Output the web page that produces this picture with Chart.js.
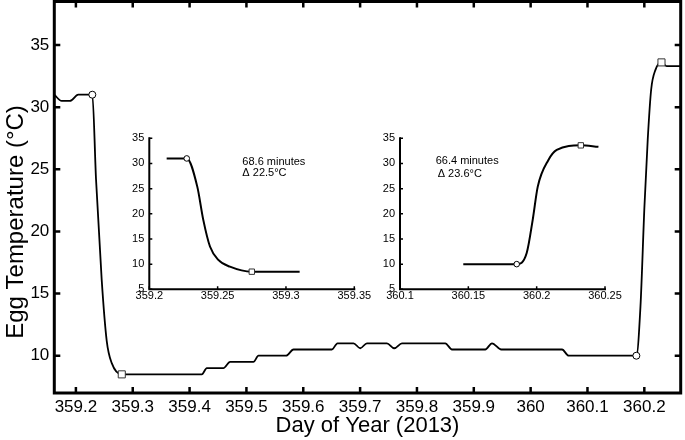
<!DOCTYPE html>
<html>
<head>
<meta charset="utf-8">
<script src="https://cdn.jsdelivr.net/npm/chart.js@4.4.1/dist/chart.umd.min.js"></script>
<style>
    body {margin: 0; background: #fff;}
    #wrap {position: relative; width: 685px; height: 440px;}
    #wrap canvas {position: absolute;}
</style>
</head>
<body>
<div id="wrap">
    <canvas id="main" width="685" height="440" style="left:0;top:0"></canvas>
    <canvas id="inset-drop" width="280" height="185" style="left:95px;top:125px"></canvas>
    <canvas id="inset-rise" width="280" height="185" style="left:350px;top:125px"></canvas>
</div>
<script>
// main record (day of year vs egg temperature)
const dayOfYear = [
    359.162, 359.175, 359.1896, 359.2042, 359.2289,
    359.2354, 359.2454, 359.2542, 359.2631, 359.2807,
    359.4215, 359.4303, 359.4595, 359.4713, 359.5123, 359.5212, 359.5699, 359.5828,
    359.6504, 359.6602, 359.6884, 359.7002, 359.712, 359.7472, 359.7601, 359.7736,
    359.8498, 359.8616, 359.9202, 359.932, 359.9484, 360.0553, 360.0669, 360.186,
    360.1932, 360.2002, 360.206, 360.212, 360.2196, 360.2302, 360.2394, 360.264,
];
const eggTemp = [
    31, 30.5, 30.5, 31, 31,
    24.2, 16.1, 11.2, 9.4, 8.5,
    8.5, 9, 9, 9.5, 9.5, 10, 10, 10.5,
    10.5, 11, 11, 10.6, 11, 11, 10.6, 11,
    11, 10.5, 10.5, 11, 10.5, 10.5, 10, 10,
    13.95, 22.0, 27.4, 31.4, 33.0, 33.6, 33.3, 33.3,
];
// start (circle) and end (square) of each transition
const circleDay = [359.2289, 360.186];
const circleTemp = [31, 10];
const squareDay = [359.2807, 360.2302];
const squareTemp = [8.5, 33.6];

// inset: cooling
const dropDay = [359.2127, 359.2274, 359.2351, 359.2395, 359.2444, 359.2505, 359.259, 359.275, 359.31];
const dropTemp = [31, 31, 25.4, 18.8, 13.5, 10.85, 9.5, 8.5, 8.5];
const dropMarkDay = [359.2274, 359.275];
const dropMarkTemp = [31, 8.5];
// inset: warming
const riseDay = [360.1463, 360.1854, 360.1927, 360.1971, 360.2008, 360.2086, 360.2147, 360.2323, 360.2452];
const riseTemp = [10, 10, 12.2, 18.8, 25.4, 30.7, 32.7, 33.6, 33.3];
const riseMarkDay = [360.1854, 360.2323];
const riseMarkTemp = [10, 33.6];

// tick labels
const mainDayTicks = [359.2, 359.3, 359.4, 359.5, 359.6, 359.7, 359.8, 359.9, 360, 360.1, 360.2];
const mainTempTicks = [10, 15, 20, 25, 30, 35];
const insetTempTicks = [5, 10, 15, 20, 25, 30, 35];
const dropDayTicks = [359.2, 359.25, 359.3, 359.35];
const riseDayTicks = [360.1, 360.15, 360.2, 360.25];

// annotations: [day, temp, text]
const dropNotes = [[359.2681, 30.35, "68.6 minutes"], [359.2681, 28.05, "\u0394 22.5\u00B0C"]];
const riseNotes = [[360.1261, 30.5, "66.4 minutes"], [360.1276, 27.85, "\u0394 23.6\u00B0C"]];

const FONT = "'Liberation Sans', Arial, Helvetica, sans-serif";
const toXY = (xs, ys) => xs.map((x, i) => ({x: x, y: ys[i]}));
const fmt = (v) => String(parseFloat(Number(v).toFixed(3)));
const noPad = (s) => {
    s.paddingTop = 0;
    s.paddingBottom = 0;
    s.paddingLeft = 0;
    s.paddingRight = 0;
};

// frame + inward ticks drawn from the chart's own scales
const axesPlugin = {
    id: "axesPlugin",
    afterDraw(chart, args, opts) {
        const {ctx, chartArea: a} = chart;
        const x = chart.scales.x;
        const y = chart.scales.y;
        ctx.save();
        ctx.strokeStyle = "#000";
        ctx.lineWidth = opts.tickWidth;
        ctx.beginPath();
        x.ticks.forEach((t) => {
            const px = x.getPixelForValue(t.value);
            ctx.moveTo(px, a.bottom);
            ctx.lineTo(px, a.bottom - opts.tickLen);
            if (opts.box) {
                ctx.moveTo(px, a.top);
                ctx.lineTo(px, a.top + opts.tickLen);
            }
        });
        y.ticks.forEach((t) => {
            const py = y.getPixelForValue(t.value);
            ctx.moveTo(a.left, py);
            ctx.lineTo(a.left + opts.tickLen, py);
            if (opts.box) {
                ctx.moveTo(a.right, py);
                ctx.lineTo(a.right - opts.tickLen, py);
            }
        });
        ctx.stroke();
        ctx.lineWidth = opts.lineWidth;
        ctx.lineCap = "square";
        if (opts.box) {
            ctx.strokeRect(a.left, a.top, a.right - a.left, a.bottom - a.top);
        } else {
            ctx.beginPath();
            ctx.moveTo(a.left, a.top);
            ctx.lineTo(a.left, a.bottom);
            ctx.lineTo(a.right, a.bottom);
            ctx.stroke();
        }
        ctx.fillStyle = "#000";
        // y axis title, sits a bit below the middle of the axis
        if (opts.yTitle) {
            ctx.save();
            ctx.font = opts.yTitle.size + "px " + FONT;
            ctx.textAlign = "center";
            ctx.textBaseline = "middle";
            ctx.translate(opts.yTitle.x, opts.yTitle.y);
            ctx.rotate(-Math.PI / 2);
            ctx.fillText(opts.yTitle.text, 0, 0);
            ctx.restore();
        }
        // text notes placed in data coordinates
        (opts.notes || []).forEach(([d, t, text]) => {
            ctx.font = "11px " + FONT;
            ctx.textAlign = "left";
            ctx.textBaseline = "middle";
            ctx.fillText(text, x.getPixelForValue(d), y.getPixelForValue(t));
        });
        ctx.restore();
    },
};

function markerSets(cx, cy, sx, sy, rc, rs) {
    return [
        {
            data: toXY(cx, cy), showLine: false, order: 0,
            pointStyle: "circle", pointRadius: rc, pointBackgroundColor: "#fff",
            pointBorderColor: "#000", pointBorderWidth: 1,
        },
        {
            data: toXY(sx, sy), showLine: false, order: 0,
            pointStyle: "rect", pointRadius: rs, pointBackgroundColor: "#fff",
            pointBorderColor: "#333", pointBorderWidth: 1,
        },
    ];
}

new Chart(document.getElementById("main"), {
    type: "line",
    data: {
        datasets: [
            {
                data: toXY(dayOfYear, eggTemp), order: 1,
                borderColor: "#000", borderWidth: 1.8, pointRadius: 0,
                cubicInterpolationMode: "monotone", fill: false,
            },
            ...markerSets(circleDay, circleTemp, squareDay, squareTemp, 3.5, 5),
        ],
    },
    options: {
        responsive: false,
        animation: false,
        layout: {autoPadding: false, padding: {top: 1.5, right: 4.3, left: 0, bottom: 0}},
        plugins: {
            legend: {display: false},
            tooltip: {enabled: false},
            axesPlugin: {
                box: true, lineWidth: 3, tickWidth: 2.5, tickLen: 6,
                yTitle: {text: "Egg Temperature (\u00B0C)", size: 24, x: 16, y: 222},
            },
        },
        scales: {
            x: {
                type: "linear",
                min: 359.162,
                max: 360.264,
                afterBuildTicks: (s) => { s.ticks = mainDayTicks.map((v) => ({value: v})); },
                afterFit: (s) => { s.height = 47; noPad(s); },
                grid: {display: false, drawTicks: false},
                border: {display: false},
                ticks: {
                    color: "#000", font: {family: FONT, size: 17}, padding: 4,
                    maxRotation: 0, autoSkip: false, callback: (v) => fmt(v),
                },
                title: {
                    display: true, text: "Day of Year (2013)", color: "#000",
                    font: {family: FONT, size: 22}, padding: {top: 0, bottom: 1},
                },
            },
            y: {
                type: "linear",
                min: 7,
                max: 38.5,
                afterBuildTicks: (s) => { s.ticks = mainTempTicks.map((v) => ({value: v})); },
                afterFit: (s) => { s.width = 54.3; noPad(s); },
                grid: {display: false, drawTicks: false},
                border: {display: false},
                ticks: {color: "#000", font: {family: FONT, size: 17}, padding: 5, callback: (v) => fmt(v)},
            },
        },
    },
    plugins: [axesPlugin],
});

function insetChart(id, line, marks, xMin, xMax, xTicks, notes, pad) {
    return new Chart(document.getElementById(id), {
        type: "line",
        data: {
            datasets: [
                {
                    data: line, order: 1, borderColor: "#000", borderWidth: 2,
                    pointRadius: 0, cubicInterpolationMode: "monotone", fill: false,
                },
                ...marks,
            ],
        },
        options: {
            responsive: false,
            animation: false,
            layout: {autoPadding: false, padding: pad},
            plugins: {
                legend: {display: false},
                tooltip: {enabled: false},
                axesPlugin: {box: false, lineWidth: 2, tickWidth: 1.5, tickLen: 3, notes: notes},
            },
            scales: {
                x: {
                    type: "linear", min: xMin, max: xMax,
                    afterBuildTicks: (s) => { s.ticks = xTicks.map((v) => ({value: v})); },
                    afterFit: (s) => { s.height = 20.7; noPad(s); },
                    grid: {display: false, drawTicks: false},
                    border: {display: false},
                    ticks: {
                        color: "#000", font: {family: FONT, size: 11}, padding: 0,
                        maxRotation: 0, autoSkip: false, callback: (v) => fmt(v),
                    },
                },
                y: {
                    type: "linear", min: 5, max: 35,
                    afterBuildTicks: (s) => { s.ticks = insetTempTicks.map((v) => ({value: v})); },
                    afterFit: (s) => { s.width = pad.yWidth; noPad(s); },
                    grid: {display: false, drawTicks: false},
                    border: {display: false},
                    ticks: {color: "#000", font: {family: FONT, size: 11}, padding: 5},
                },
            },
        },
        plugins: [axesPlugin],
    });
}

insetChart(
    "inset-drop",
    toXY(dropDay, dropTemp),
    markerSets([dropMarkDay[0]], [dropMarkTemp[0]], [dropMarkDay[1]], [dropMarkTemp[1]], 2.8, 3.8),
    359.2, 359.35, dropDayTicks, dropNotes,
    {top: 13.3, right: 20.7, left: 0, bottom: 0, yWidth: 54.3}
);
insetChart(
    "inset-rise",
    toXY(riseDay, riseTemp),
    markerSets([riseMarkDay[0]], [riseMarkTemp[0]], [riseMarkDay[1]], [riseMarkTemp[1]], 2.8, 3.8),
    360.1, 360.25, riseDayTicks, riseNotes,
    {top: 13.3, right: 25, left: 0, bottom: 0, yWidth: 50}
);
</script>
</body>
</html>
